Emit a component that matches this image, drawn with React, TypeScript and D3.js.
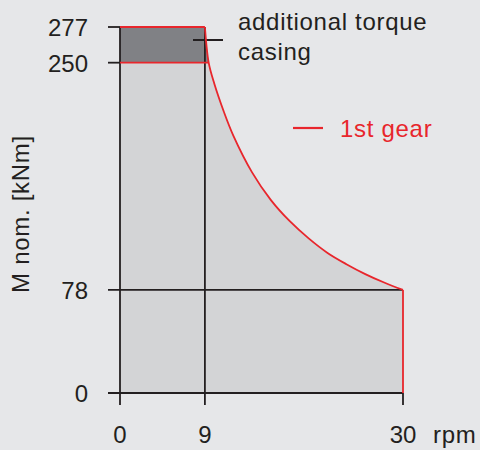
import React from "react";
import * as d3 from "d3";

// Data
const yTicks = [0, 78, 250, 277];
const xTicks = [0, 9, 30];
const baseTorque = 250; // nominal torque
const extraTorque = 277; // with additional torque casing
const cornerSpeed = 9;
const maxSpeed = 30;
const minTorque = 78;
// 1st gear envelope (rpm, kNm)
const curveRpm = [9, 9.4, 10, 11, 12, 14, 16, 18, 20, 22, 24, 26, 28, 30];
const curveTorque = [277, 250, 234, 213, 195, 167, 146, 130, 117, 106, 97.5, 90, 83.6, 78];

const W = 480;
const H = 450;
const RED = "#e8262c";
const INK = "#231f20";
const FONT = "'Liberation Sans', Arial, sans-serif";

export default function App() {
  const x = d3.scaleLinear().domain([0, 30]).range([120, 403]);
  const y = d3.scaleLinear().domain([0, 277]).range([393, 27]);

  const curvePts: [number, number][] = curveRpm.map((r, i) => [r, curveTorque[i]]);
  const line = d3
    .line<[number, number]>()
    .x((d) => x(d[0]))
    .y((d) => y(d[1]))
    .curve(d3.curveCatmullRom.alpha(0.5));

  const lightPath =
    "M" + x(0) + "," + y(0) +
    "L" + x(0) + "," + y(baseTorque) +
    "L" + x(curveRpm[1]) + "," + y(curveTorque[1]) +
    (line(curvePts.slice(1)) || "").replace(/^M[^LC]*/, "") +
    "L" + x(maxSpeed) + "," + y(0) + "Z";

  const darkPath =
    "M" + x(0) + "," + y(baseTorque) +
    "L" + x(0) + "," + y(extraTorque) +
    "L" + x(cornerSpeed) + "," + y(extraTorque) +
    "L" + x(curveRpm[1]) + "," + y(baseTorque) + "Z";

  const fs = 24;
  const ls = 0.7;

  return (
    <svg
      width={W}
      height={H}
      style={{ position: "absolute", left: 0, top: 0, display: "block" }}
      fontFamily={FONT}
    >
      <rect x={0} y={0} width={W} height={H} fill="#e6e7e9" />
      <path d={lightPath} fill="#d3d4d6" />
      <path d={darkPath} fill="#808185" />

      {/* black grid/axes */}
      <g stroke={INK} strokeWidth={1.8} fill="none">
        <line x1={x(0)} x2={x(0)} y1={y(extraTorque)} y2={y(0) + 12} />
        <line x1={x(cornerSpeed)} x2={x(cornerSpeed)} y1={y(extraTorque)} y2={y(0) + 12} />
        <line x1={x(maxSpeed)} x2={x(maxSpeed)} y1={y(0)} y2={y(0) + 12} />
        <line x1={x(0) - 12} x2={x(maxSpeed)} y1={y(0)} y2={y(0)} />
        <line x1={x(0) - 12} x2={x(maxSpeed)} y1={y(minTorque)} y2={y(minTorque)} />
        {yTicks
          .filter((t) => t > minTorque)
          .map((t) => (
            <line key={t} x1={x(0) - 12} x2={x(0)} y1={y(t)} y2={y(t)} />
          ))}
        <line x1={193} x2={223} y1={40} y2={40} strokeWidth={2} />
      </g>

      {/* red envelope */}
      <g stroke={RED} strokeWidth={1.8} fill="none">
        <line x1={x(0)} x2={x(cornerSpeed)} y1={y(extraTorque)} y2={y(extraTorque)} />
        <line x1={x(0)} x2={x(curveRpm[1])} y1={y(baseTorque)} y2={y(baseTorque)} />
        <path d={line(curvePts) || ""} />
        <line x1={x(maxSpeed)} x2={x(maxSpeed)} y1={y(minTorque)} y2={y(0)} />
        <line x1={293} x2={323} y1={128} y2={128} strokeWidth={2.2} />
      </g>

      {/* y tick labels */}
      {yTicks.map((t) => (
        <text key={t} x={88} y={y(t) + 9} textAnchor="end" fontSize={fs} fill={INK}>
          {t}
        </text>
      ))}
      {/* x tick labels */}
      {xTicks.map((t) => (
        <text key={t} x={x(t)} y={443} textAnchor="middle" fontSize={fs} fill={INK}>
          {t}
        </text>
      ))}
      <text x={433} y={443} fontSize={fs} fill={INK} letterSpacing={ls}>
        rpm
      </text>
      <text
        transform={`translate(29,214) rotate(-90)`}
        textAnchor="middle"
        fontSize={fs}
        fill={INK}
        letterSpacing={ls}
      >
        M nom. [kNm]
      </text>
      <text x={238} y={30} fontSize={fs} fill={INK} letterSpacing={ls}>
        additional torque
      </text>
      <text x={238} y={60} fontSize={fs} fill={INK} letterSpacing={ls}>
        casing
      </text>
      <text x={340} y={137} fontSize={fs} fill={RED} letterSpacing={ls}>
        1st gear
      </text>
    </svg>
  );
}
